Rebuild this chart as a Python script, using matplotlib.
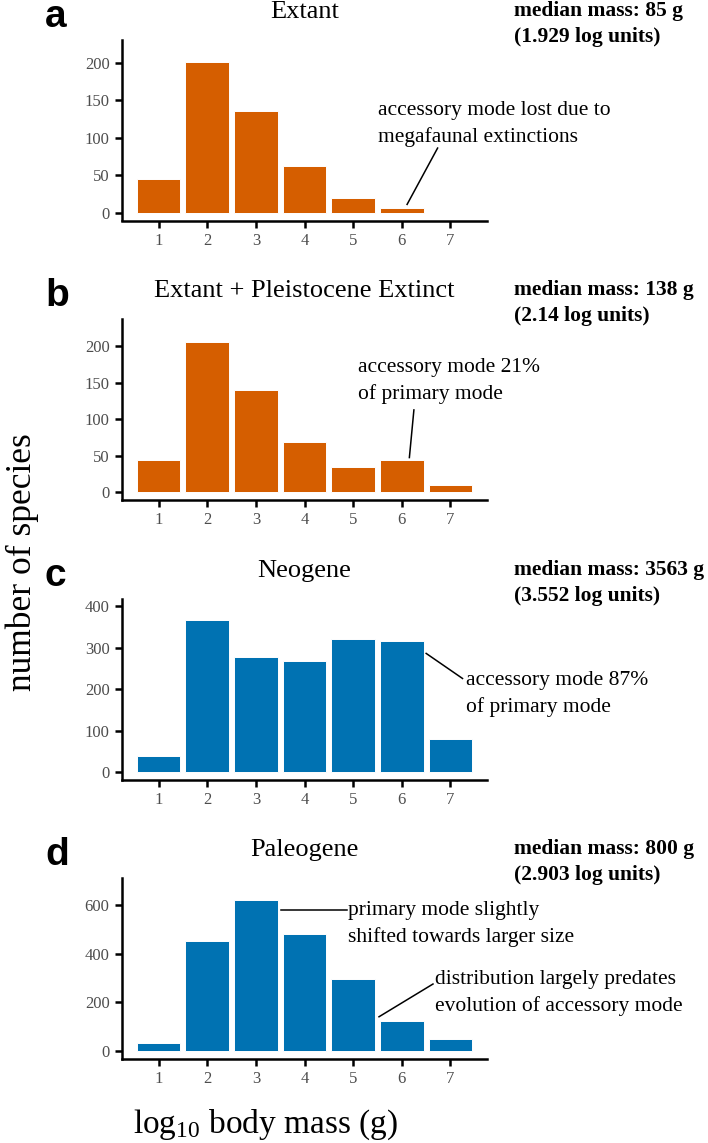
import numpy as np
import matplotlib.pyplot as plt

plt.rcParams['font.family'] = 'Liberation Serif'
plt.rcParams['mathtext.fontset'] = 'custom'
plt.rcParams['mathtext.rm'] = 'Liberation Serif'
plt.rcParams['mathtext.it'] = 'Liberation Serif:italic'

### data (counts per log10 mass bin) ###
mass_bins = [1, 2, 3, 4, 5, 6, 7]
extant = [45, 201, 135, 63, 20, 7, 0]
extant_pleist = [44, 206, 140, 69, 34, 44, 10]
neogene = [39, 365, 277, 267, 320, 316, 79]
paleogene = [34, 452, 623, 480, 296, 124, 49]

titles = ["Extant", "Extant + Pleistocene Extinct", "Neogene", "Paleogene"]
letters = ["a", "b", "c", "d"]
medians = [("median mass: 85 g", "(1.929 log units)"),
           ("median mass: 138 g", "(2.14 log units)"),
           ("median mass: 3563 g", "(3.552 log units)"),
           ("median mass: 800 g", "(2.903 log units)")]

orange = '#D55E00'
blue = '#0072B2'

W, H = 708, 1143
fig = plt.figure(figsize=(W / 100, H / 100), dpi=100)


def fx(px):
    return px / W


def fy(py):
    return 1 - py / H


panels = [
    dict(vals=extant, color=orange, top=40, ylim=(-10, 230), yticks=[0, 50, 100, 150, 200],
         notes=[(["accessory mode lost due to", "megafaunal extinctions"], (5.51, 130.5),
                 ((6.735, 86.3), (6.108, 11.4)))]),
    dict(vals=extant_pleist, color=orange, top=319.3, ylim=(-10.5, 236.5), yticks=[0, 50, 100, 150, 200],
         notes=[(["accessory mode 21%", "of primary mode"], (5.10, 164.9),
                 ((6.248, 112.5), (6.155, 47.3)))]),
    dict(vals=neogene, color=blue, top=599.3, ylim=(-18.3, 416), yticks=[0, 100, 200, 300, 400],
         notes=[(["accessory mode 87%", "of primary mode"], (7.32, 209.3),
                 ((6.50, 285.8), (7.247, 225.5)))]),
    dict(vals=paleogene, color=blue, top=878.3, ylim=(-31.7, 711), yticks=[0, 200, 400, 600],
         notes=[(["primary mode slightly", "shifted towards larger size"], (4.896, 560),
                 ((3.516, 580.7), (4.868, 580.7))),
                (["distribution largely predates", "evolution of accessory mode"], (6.687, 276),
                 ((5.531, 141.3), (6.640, 276)))]),
]

left, right, height = 122, 487, 180.5
line_gap = 19.6  # points between annotation lines

for i, p in enumerate(panels):
    top = p['top']
    ax = fig.add_axes([fx(left), fy(top + height), fx(right) - fx(left), height / H])
    ax.bar(mass_bins, p['vals'], width=0.9, color=p['color'], edgecolor='white', linewidth=0.7)
    ax.set_xlim(0.25, 7.75)
    ax.set_ylim(*p['ylim'])
    ax.set_xticks(mass_bins)
    ax.set_yticks(p['yticks'])
    for s in ['top', 'right']:
        ax.spines[s].set_visible(False)
    for s in ['left', 'bottom']:
        ax.spines[s].set_linewidth(1.8)
    ax.tick_params(length=5, width=1.8, color='black', labelcolor='#4D4D4D',
                   labelsize=12, pad=4)

    for lines, (tx, ty), (p0, p1) in p['notes']:
        ax.plot([p0[0], p1[0]], [p0[1], p1[1]], color='black', lw=1.1, clip_on=False)
        for k, line in enumerate(lines):
            ax.annotate(line, xy=(tx, ty), xytext=(0, -k * line_gap), textcoords='offset points',
                        ha='left', va='baseline', fontsize=15.5, annotation_clip=False)

    fig.text(fx(304.5), fy(top - 22), titles[i], ha='center', va='baseline', fontsize=19)
    fig.text(fx(45), fy(top - 13), letters[i], ha='left', va='baseline', fontsize=28,
             family='Liberation Sans', weight='bold')
    fig.text(fx(514), fy(top - 24), medians[i][0], ha='left', va='baseline', fontsize=15.5, weight='bold')
    fig.text(fx(514), fy(top + 2), medians[i][1], ha='left', va='baseline', fontsize=15.5, weight='bold')

fig.text(fx(22), fy(562), "number of species", rotation=90, ha='center', va='center', fontsize=25.5)
fig.text(fx(266), fy(1133), r"log$_{10}$ body mass (g)", ha='center', va='baseline', fontsize=24)

plt.savefig("out.png", dpi=100)
